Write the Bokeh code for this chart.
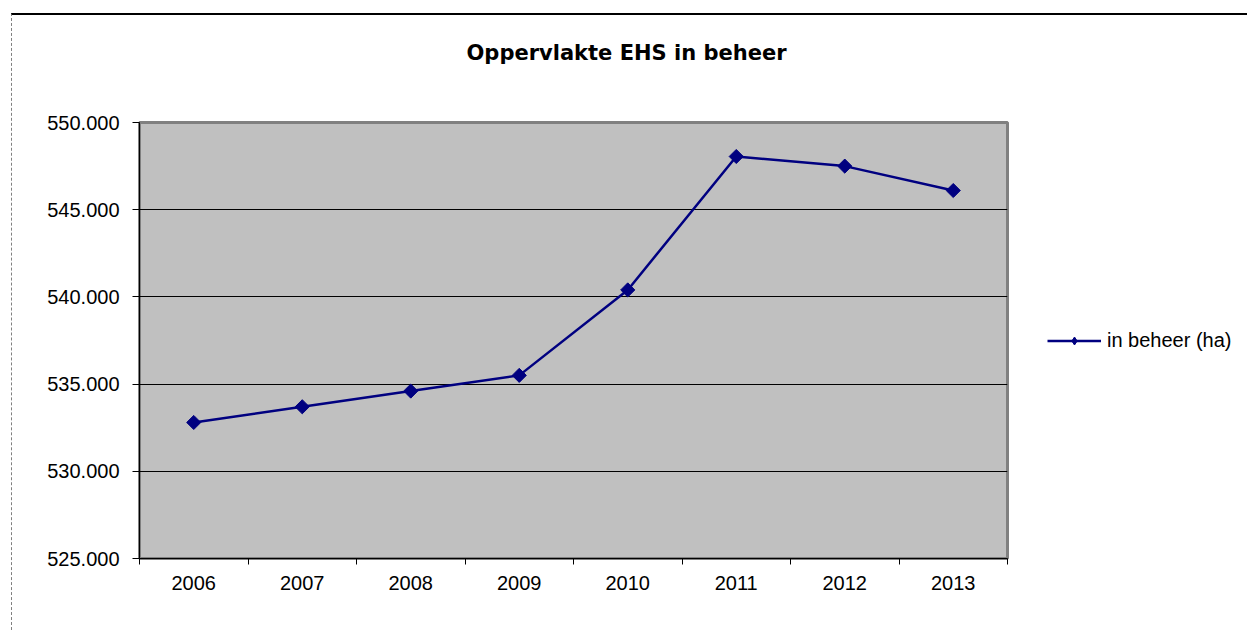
import math
from bokeh.plotting import figure
from bokeh.models import (ColumnDataSource, FixedTicker, CustomJSTickFormatter, Legend,
                          LegendItem, Range1d, Title)
from bokeh.embed import file_html
from bokeh.resources import INLINE

years = ["2006", "2007", "2008", "2009", "2010", "2011", "2012", "2013"]
in_beheer_ha = [532800, 533700, 534600, 535500, 540400, 548050, 547500, 546100]
y_ticks = [525000, 530000, 535000, 540000, 545000, 550000]
title_text = "Oppervlakte EHS in beheer"
series_name = "in beheer (ha)"

xpos = [i + 0.5 for i in range(len(years))]
src = ColumnDataSource(dict(x=xpos, y=in_beheer_ha, year=years))

FONT = "Liberation Sans"
NAVY = "#000080"

p = figure(width=1234, height=615, output_backend="svg", toolbar_location=None,
           x_range=Range1d(0, len(years)), y_range=Range1d(y_ticks[0], y_ticks[-1]),
           frame_width=868, frame_height=436,
           min_border_left=127, min_border_top=107, min_border_right=239, min_border_bottom=72)
p.styles = {"margin-left": "11px", "margin-top": "13px",
            "border-top": "2px solid #000000", "border-left": "1px dashed #808080"}

p.background_fill_color = "#C0C0C0"
p.border_fill_color = "white"
p.outline_line_color = "#808080"
p.outline_line_width = 3

p.title = Title(text=title_text, align="left", offset=327, standoff=0,
                text_font="DejaVu Sans", text_font_style="bold", text_font_size="21px",
                text_color="black")
# spacer between title and plot area
p.add_layout(Title(text=" ", text_font_size="2px", standoff=54), "above")

# grid
p.xgrid.visible = False
p.ygrid.ticker = FixedTicker(ticks=y_ticks[1:-1])
p.ygrid.grid_line_color = "black"
p.ygrid.grid_line_width = 1

# x axis: labels centred in categories, tick marks at category boundaries
xa = p.xaxis[0]
xa.ticker = FixedTicker(ticks=xpos, minor_ticks=list(range(len(years) + 1)))
xa.major_label_overrides = {x: y for x, y in zip(xpos, years)}
xa.major_tick_out = 0
xa.major_tick_in = 0
xa.minor_tick_out = 6
xa.minor_tick_in = 0
xa.minor_tick_line_color = "black"
xa.axis_line_color = "black"
xa.major_label_standoff = 11
xa.major_label_text_font = FONT
xa.major_label_text_font_size = "20px"
xa.major_label_text_color = "black"

ya = p.yaxis[0]
ya.ticker = FixedTicker(ticks=y_ticks)
ya.formatter = CustomJSTickFormatter(
    code="return Math.round(tick).toString().replace(/\\B(?=(\\d{3})+(?!\\d))/g, '.');")
ya.major_tick_out = 7
ya.major_tick_in = 0
ya.minor_tick_out = 0
ya.minor_tick_in = 0
ya.axis_line_color = "black"
ya.major_tick_line_color = "black"
ya.major_label_standoff = 13
ya.major_label_text_font = FONT
ya.major_label_text_font_size = "20px"
ya.major_label_text_color = "black"

line_r = p.line("x", "y", source=src, line_color=NAVY, line_width=2.5)
# small marker (hidden under the big ones) used for the legend glyph
leg_marker = p.scatter("x", "y", source=src, marker="diamond", size=10,
                       fill_color=NAVY, line_color=NAVY)
p.scatter("x", "y", source=src, marker="square", angle=math.pi / 4, size=10,
          fill_color=NAVY, line_color=NAVY)

legend = Legend(items=[LegendItem(label=series_name, renderers=[line_r, leg_marker])],
                location="center_left", padding=0, margin=40, spacing=0,
                glyph_width=54, glyph_height=20, label_standoff=6,
                label_text_font=FONT, label_text_font_size="20px", label_text_color="black",
                border_line_color=None, background_fill_alpha=0)
p.add_layout(legend, "right")

open("out.html", "w").write(file_html(p, INLINE))
